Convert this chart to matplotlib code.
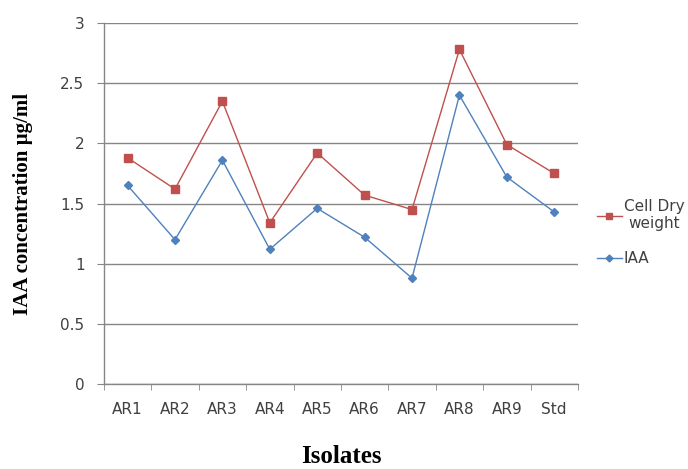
import matplotlib.pyplot as plt
from matplotlib.lines import Line2D
import numpy as np

isolates = ["AR1", "AR2", "AR3", "AR4", "AR5", "AR6", "AR7", "AR8", "AR9", "Std"]
cell_dry_weight = [1.88, 1.62, 2.35, 1.34, 1.92, 1.57, 1.45, 2.78, 1.99, 1.75]
iaa = [1.65, 1.20, 1.86, 1.12, 1.46, 1.22, 0.88, 2.40, 1.72, 1.43]

red = "#C0504D"
blue = "#4F81BD"
axis_grey = "#868686"

fig = plt.figure(figsize=(6.88, 4.69), dpi=100)
ax = fig.add_axes([0.151, 0.181, 0.689, 0.770])

x = np.arange(len(isolates))
ax.plot(x, cell_dry_weight, color=red, lw=1.0, marker="s", markersize=6,
        markerfacecolor=red, markeredgecolor=red, zorder=3)
ax.plot(x, iaa, color=blue, lw=1.0, marker="D", markersize=4.5,
        markerfacecolor=blue, markeredgecolor=blue, zorder=3)

ax.set_xlim(-0.5, len(isolates) - 0.5)
ax.set_ylim(0, 3)
ax.set_yticks([0, 0.5, 1, 1.5, 2, 2.5, 3])
ax.set_yticklabels(["0", "0.5", "1", "1.5", "2", "2.5", "3"])
ax.yaxis.grid(True, color=axis_grey, lw=1.0)
ax.set_axisbelow(True)

# category labels centred, tick marks on category boundaries
ax.set_xticks(x)
ax.set_xticklabels(isolates)
ax.set_xticks(np.arange(-0.5, len(isolates), 1.0), minor=True)
ax.tick_params(axis="x", which="major", length=0, pad=13)
ax.tick_params(axis="x", which="minor", length=4, color=axis_grey, direction="out")
ax.tick_params(axis="y", length=5, color=axis_grey, direction="out", pad=9)
for lbl in ax.get_xticklabels() + ax.get_yticklabels():
    lbl.set_fontfamily("DejaVu Sans")
    lbl.set_fontsize(11)
    lbl.set_color("#404040")

for side in ["top", "right"]:
    ax.spines[side].set_visible(False)
for side in ["left", "bottom"]:
    ax.spines[side].set_color(axis_grey)
    ax.spines[side].set_linewidth(1.0)

ax.set_ylabel("IAA concentration \u00b5g/ml", family="Liberation Serif",
              fontweight="bold", fontsize=15, labelpad=20)
ax.set_xlabel("Isolates", family="Liberation Serif", fontweight="bold",
              fontsize=18, labelpad=20)

handles = [
    Line2D([], [], color=red, lw=1.0, marker="s", markersize=5,
           markerfacecolor=red, markeredgecolor=red),
    Line2D([], [], color=blue, lw=1.0, marker="D", markersize=3.5,
           markerfacecolor=blue, markeredgecolor=blue),
]
leg = fig.legend(handles, ["Cell Dry\nweight", "IAA"], loc="upper left",
                 bbox_to_anchor=(0.848, 0.605), frameon=False,
                 handlelength=1.6, handletextpad=0.15, labelspacing=1.3,
                 prop={"family": "DejaVu Sans", "size": 11})
for t in leg.get_texts():
    t.set_color("#404040")
leg.get_texts()[0].set_multialignment("center")

fig.savefig("out.png", dpi=100)
